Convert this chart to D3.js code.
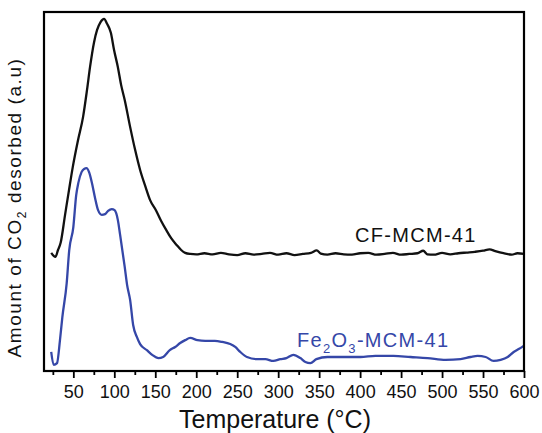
<!DOCTYPE html>
<html>
<head>
<meta charset="utf-8">
<script src="https://cdn.jsdelivr.net/npm/d3@7"></script>
<style>
  body { margin: 0; background: #fff; }
  text { font-family: "Liberation Sans", Arial, sans-serif; }
</style>
</head>
<body>
<div id="chart-container"></div>
<script>
// CF-MCM-41 (black) - temperature (°C) and signal (a.u.)
const cfTemp = [23, 28.1, 31.3, 34.5, 39.9, 44.7, 49.3, 55.7, 61.9, 66.7, 70.4, 75.3, 79, 83.2, 87.5, 91.2, 95.8, 99.7, 104.3, 108.3, 112.7, 119.3, 125.4, 131.5, 138.1, 143.7, 150.8, 157.2, 163.3, 169.4, 176.1, 181.6, 186.5, 192.6,
  200, 210, 220, 230, 240, 250, 260, 270, 280, 290, 300, 310, 320, 330, 340, 347, 352, 360, 370, 380, 390, 400, 410, 420, 430, 440, 450, 460, 470, 477, 482, 490, 500, 510, 520, 530, 540, 550, 558, 565, 575, 585, 592, 600]
const cfValue = [32.9, 31.8, 33.7, 35.7, 43.5, 50.4, 56.8, 64.3, 70.8, 78.3, 84.7, 91.6, 95, 97.2, 98.1, 96.7, 94.2, 89.4, 84.7, 79.7, 75.5, 68, 61.6, 56, 51.3, 47.6, 44.8, 41.8, 39.3, 37, 35.1, 33.7, 32.9, 32.6,
  32.5, 32.8, 32.5, 32.9, 32.5, 32.3, 32.8, 32.4, 32.6, 32.9, 32.4, 32.8, 32.3, 32.6, 32.9, 33.6, 32.7, 32.4, 32.8, 32.5, 32.4, 32.8, 32.9, 32.4, 32.6, 32.9, 32.4, 32.6, 32.8, 33.5, 32.5, 32.4, 32.9, 32.5, 32.8, 33.0, 33.2, 33.5, 33.9, 33.4, 32.8, 32.4, 32.8, 32.6]

// Fe2O3-MCM-41 (blue)
const feTemp = [23, 26, 30.1, 33.7, 36.6, 41.9, 45, 50, 53.5, 56.1, 60, 63.1, 66.1, 69.2, 72.5, 76.5, 80.2, 84.7, 88.7, 92.4, 96.9, 100.4, 104.3, 107.1, 112.7, 115.6, 119.3, 123, 127.5, 131.5, 139.7, 146.2, 153.9, 159.6, 167.7, 174.3, 180.4, 186.5, 192.6, 201.5, 211, 222.7, 231.7, 241.5, 247.6, 253.7, 261.9, 274.2, 284.3, 294.1, 302.7, 310, 318.5, 327.1, 333.2, 339.3, 346.6, 360.1, 376, 400.4, 418.7, 440.7, 461.5, 482.3, 504.3, 522.6, 534.8, 543.4, 553.2, 562.9, 571.5, 580.1, 587.4, 593.5, 599.6]
const feValue = [5.3, 1.7, 2.2, 8.6, 15, 24.5, 33.7, 40.1, 49, 52.4, 55.4, 56.3, 56.5, 55.4, 52.6, 48.2, 44.8, 43.5, 43.7, 44.6, 45.1, 44.8, 42.1, 37.9, 29, 24, 19.8, 12.8, 9.5, 7.5, 5.8, 4.5, 3.6, 3.9, 5.8, 6.7, 7.8, 8.6, 9.2, 8.6, 8.4, 8.4, 8.1, 7.5, 6.7, 5.3, 3.9, 3.3, 3.3, 2.8, 3.3, 3.6, 4.5, 3.6, 2.5, 2.2, 3.3, 3.9, 3.9, 3.9, 4.2, 4.2, 3.9, 3.6, 3.1, 3.3, 3.9, 4.2, 3.9, 2.8, 3.1, 3.9, 5.3, 6.1, 7]

const majorTicks = [50, 100, 150, 200, 250, 300, 350, 400, 450, 500, 550, 600]
const minorTicks = [25, 75, 125, 175, 225, 275, 325, 375, 425, 475, 525, 575]

const margin = {top: 12, right: 18, bottom: 62, left: 44};
const width = 542 - margin.left - margin.right;
const height = 433 - margin.top - margin.bottom;

const x = d3.scaleLinear().domain([14.2, 600]).range([0, width]);
const y = d3.scaleLinear().domain([0, 100]).range([height, 0]);

const line = d3.line()
    .x(d => x(d.t))
    .y(d => y(d.v))
    .curve(d3.curveMonotoneX)

const svg = d3.select("#chart-container")
    .append("svg")
    .attr("width", 542)
    .attr("height", 433)
    .append("g")
    .attr("transform", `translate(${margin.left},${margin.top})`);

const cfData = cfTemp.map((t, i) => ({t: t, v: cfValue[i]}))
const feData = feTemp.map((t, i) => ({t: t, v: feValue[i]}))

svg.append("path")
    .datum(cfData)
    .attr("fill", "none")
    .attr("stroke", "#111")
    .attr("stroke-width", 2.3)
    .attr("stroke-linejoin", "round")
    .attr("d", line);

svg.append("path")
    .datum(feData)
    .attr("fill", "none")
    .attr("stroke", "#3547a8")
    .attr("stroke-width", 2.3)
    .attr("stroke-linejoin", "round")
    .attr("d", line);

// minor ticks
svg.append("g")
    .attr("transform", `translate(0,${height})`)
    .call(d3.axisBottom(x).tickValues(minorTicks).tickSize(4).tickFormat(""))
    .call(g => g.select(".domain").remove())
    .selectAll(".tick line").attr("stroke", "#000").attr("stroke-width", 1.8);

// major ticks
svg.append("g")
    .attr("transform", `translate(0,${height})`)
    .call(d3.axisBottom(x).tickValues(majorTicks).tickSize(7).tickPadding(7.5))
    .call(g => g.select(".domain").remove())
    .call(g => g.selectAll(".tick line").attr("stroke", "#000").attr("stroke-width", 1.8))
    .selectAll(".tick text")
    .style("font-size", "18px")
    .style("font-family", "'Liberation Sans', Arial, sans-serif")
    .attr("fill", "#111");

// frame
svg.append("rect")
    .attr("width", width)
    .attr("height", height)
    .attr("fill", "none")
    .attr("stroke", "#000")
    .attr("stroke-width", 2.2);

// axis titles
svg.append("text")
    .attr("x", 275 - margin.left)
    .attr("y", 428 - margin.top)
    .attr("text-anchor", "middle")
    .style("font-size", "25px")
    .attr("fill", "#111")
    .text("Temperature (°C)");

const yTitle = svg.append("text")
    .attr("transform", `translate(${21 - margin.left},${207.5 - margin.top}) rotate(-90)`)
    .attr("text-anchor", "middle")
    .style("font-size", "19px")
    .attr("fill", "#111");
yTitle.append("tspan").text("Amount of CO");
yTitle.append("tspan").attr("dy", 5).style("font-size", "12px").text("2");
yTitle.append("tspan").attr("dy", -5).text(" desorbed (a.u)");
const yLen = yTitle.node().getComputedTextLength();
yTitle.style("letter-spacing", ((300 - yLen) / 28) + "px");

// series labels
svg.append("text")
    .attr("x", 355 - margin.left)
    .attr("y", 242 - margin.top)
    .style("font-size", "20px")
    .style("letter-spacing", "1.3px")
    .attr("fill", "#111")
    .text("CF-MCM-41");

const feLabel = svg.append("text")
    .attr("x", 297 - margin.left)
    .attr("y", 347 - margin.top)
    .style("font-size", "20px")
    .style("letter-spacing", "1.3px")
    .attr("fill", "#3547a8");
feLabel.append("tspan").text("Fe");
feLabel.append("tspan").attr("dy", 6).style("font-size", "13px").text("2");
feLabel.append("tspan").attr("dy", -6).text("O");
feLabel.append("tspan").attr("dy", 6).style("font-size", "13px").text("3");
feLabel.append("tspan").attr("dy", -6).text("-MCM-41");
</script>
</body>
</html>
